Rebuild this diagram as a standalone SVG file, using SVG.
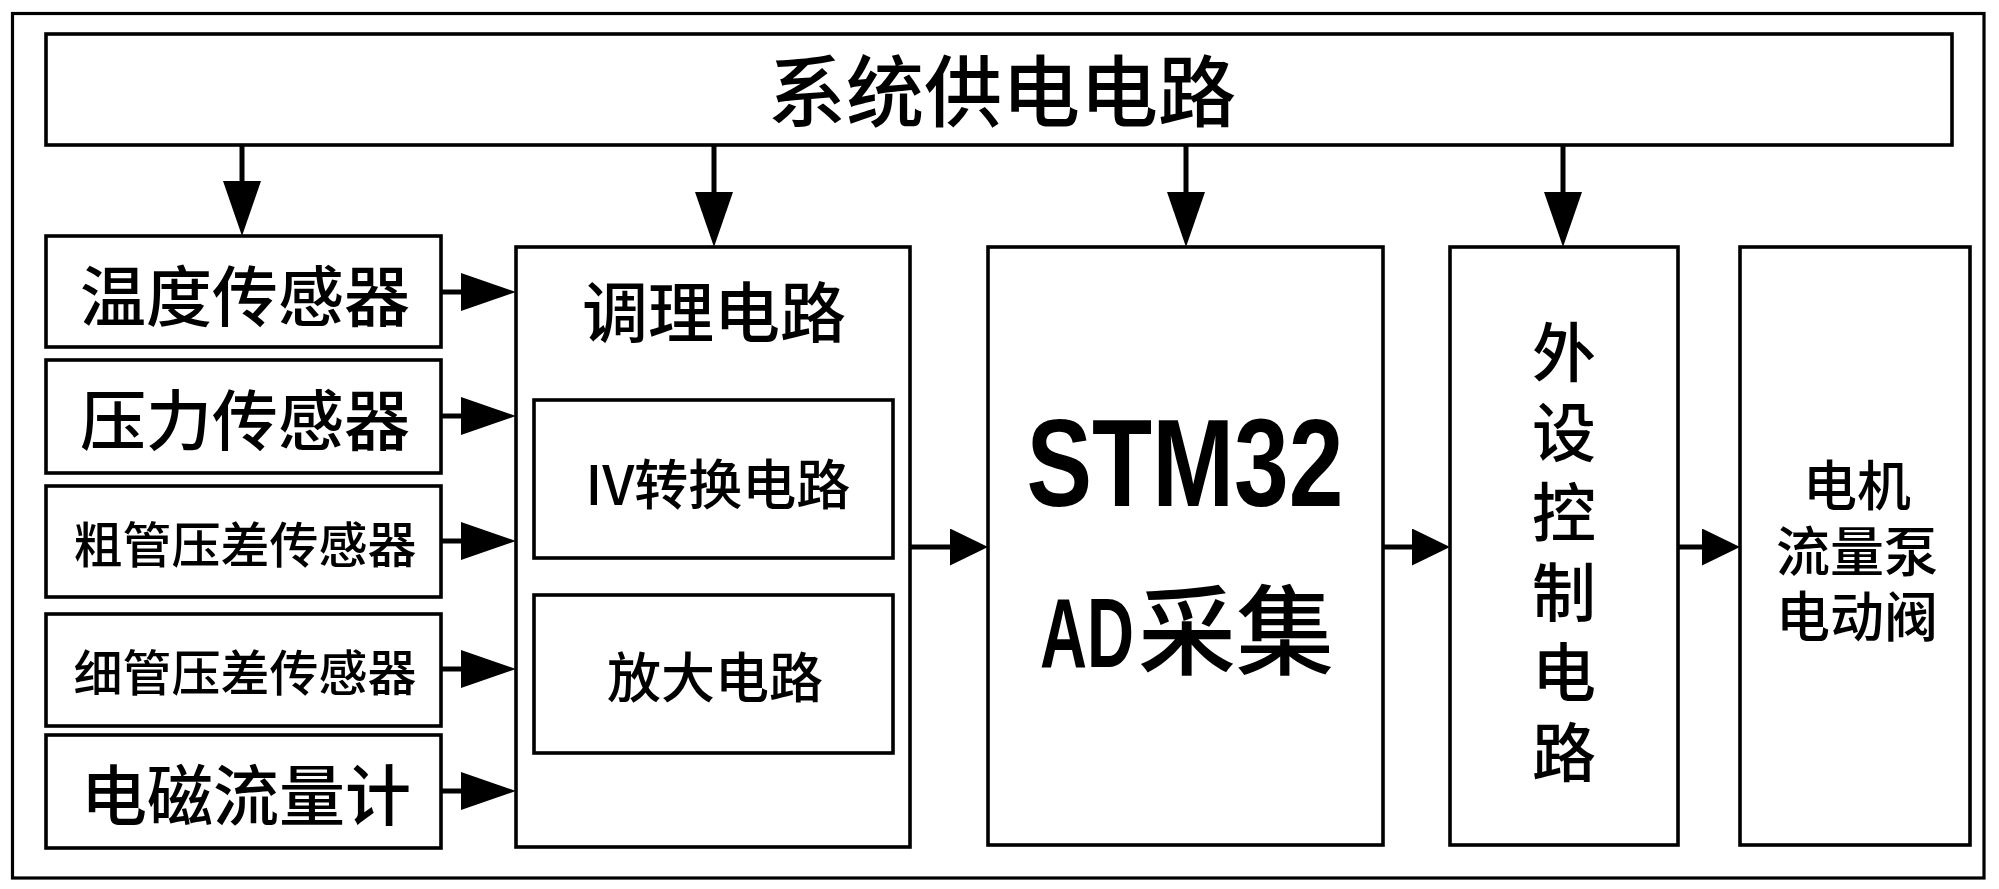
<svg xmlns="http://www.w3.org/2000/svg" width="1999" height="889" viewBox="0 0 1999 889">
<style>
.box{fill:#fff;stroke:#000;stroke-width:3.6}
.cn{font-family:"Noto Sans CJK SC","Liberation Sans",sans-serif;font-weight:500;fill:#000;text-anchor:middle;dominant-baseline:central}
.conn line{stroke:#000;stroke-width:5}
.big{marker-end:url(#ah)}
.small{marker-end:url(#as)}
</style>
<defs>
<marker id="ah" markerUnits="userSpaceOnUse" markerWidth="56" markerHeight="40" refX="45" refY="19" orient="auto" viewBox="0 0 56 40">
<path d="M0,0 L55,19 L0,38 Z" fill="#000"/>
</marker>
<marker id="as" markerUnits="userSpaceOnUse" markerWidth="40" markerHeight="40" refX="28" refY="18.5" orient="auto" viewBox="0 0 40 40">
<path d="M0,0 L38,18.5 L0,37 Z" fill="#000"/>
</marker>
</defs>
<rect x="0" y="0" width="1999" height="889" fill="#fff"/>
<rect id="frame" x="12.5" y="13.5" width="1971.5" height="864.5" fill="none" stroke="#000" stroke-width="3.2"/>

<g id="power">
<rect class="box" x="46" y="34" width="1906" height="111"/>
<text class="cn" x="1002" y="87" font-size="78">系统供电电路</text>
</g>

<g id="temp">
<rect class="box" x="46" y="236" width="395" height="111"/>
<text class="cn" x="245" y="292" font-size="66">温度传感器</text>
</g>
<g id="pressure">
<rect class="box" x="46" y="360" width="395" height="113"/>
<text class="cn" x="245" y="416" font-size="66">压力传感器</text>
</g>
<g id="coarse">
<rect class="box" x="46" y="486" width="395" height="111"/>
<text class="cn" x="245" y="541" font-size="49">粗管压差传感器</text>
</g>
<g id="fine">
<rect class="box" x="46" y="614" width="395" height="112"/>
<text class="cn" x="245" y="669" font-size="49">细管压差传感器</text>
</g>
<g id="flowmeter">
<rect class="box" x="46" y="735" width="395" height="113"/>
<text class="cn" x="246" y="791" font-size="66">电磁流量计</text>
</g>

<g id="conditioning">
<rect class="box" x="516" y="247" width="394" height="600"/>
<text class="cn" x="714" y="308" font-size="66">调理电路</text>
</g>
<g id="iv">
<rect class="box" x="534" y="400" width="359" height="158"/>
<text class="cn" x="718" y="481" font-size="54">IV转换电路</text>
</g>
<g id="amp">
<rect class="box" x="534" y="595" width="359" height="158"/>
<text class="cn" x="715" y="674" font-size="54">放大电路</text>
</g>

<g id="stm32">
<rect class="box" x="988" y="247" width="395" height="598"/>
<text x="1185" y="506" font-family="Liberation Sans, sans-serif" font-weight="700" font-size="124" text-anchor="middle" textLength="317" lengthAdjust="spacingAndGlyphs">STM32</text>
<text y="667" font-size="98" font-family="Noto Sans CJK SC, sans-serif" font-weight="500"><tspan x="1040" font-family="Liberation Sans, sans-serif" font-weight="700" textLength="94" lengthAdjust="spacingAndGlyphs">AD</tspan><tspan x="1138">采集</tspan></text>
</g>

<g id="peripheral">
<rect class="box" x="1450" y="247" width="228" height="598"/>
<text class="cn" font-size="64"><tspan x="1564" y="348">外</tspan><tspan x="1564" y="428">设</tspan><tspan x="1564" y="508">控</tspan><tspan x="1564" y="588">制</tspan><tspan x="1564" y="668">电</tspan><tspan x="1564" y="748">路</tspan></text>
</g>

<g id="actuators">
<rect class="box" x="1740" y="247" width="230" height="598"/>
<text class="cn" font-size="54"><tspan x="1857" y="482">电机</tspan><tspan x="1857" y="548">流量泵</tspan><tspan x="1857" y="613">电动阀</tspan></text>
</g>

<g id="connectors" class="conn">
<line class="big" x1="242" y1="145" x2="242" y2="226"/>
<line class="big" x1="714" y1="145" x2="714" y2="237"/>
<line class="big" x1="1186" y1="145" x2="1186" y2="237"/>
<line class="big" x1="1563" y1="145" x2="1563" y2="237"/>
<line class="big" x1="441" y1="292" x2="506" y2="292"/>
<line class="big" x1="441" y1="416" x2="506" y2="416"/>
<line class="big" x1="441" y1="541" x2="506" y2="541"/>
<line class="big" x1="441" y1="669" x2="506" y2="669"/>
<line class="big" x1="441" y1="791" x2="506" y2="791"/>
<line class="small" x1="910" y1="547" x2="978" y2="547"/>
<line class="small" x1="1383" y1="547" x2="1440" y2="547"/>
<line class="small" x1="1678" y1="547" x2="1730" y2="547"/>
</g>
</svg>
